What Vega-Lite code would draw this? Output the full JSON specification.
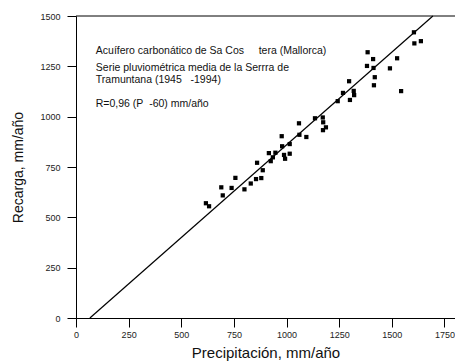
{
  "$schema": "https://vega.github.io/schema/vega-lite/v6.json",
  "width": 379,
  "height": 302,
  "autosize": {"type": "none"},
  "padding": {"left": 76, "top": 16, "right": 0, "bottom": 45},
  "background": "white",
  "config": {
    "view": {"stroke": null},
    "font": "Liberation Sans",
    "axis": {
      "grid": false,
      "domainColor": "black",
      "domainWidth": 1,
      "tickColor": "black",
      "tickWidth": 1,
      "tickSize": 9,
      "labelFont": "Liberation Sans",
      "labelFontSize": 9,
      "labelColor": "#222",
      "titleFont": "Liberation Sans",
      "titleFontWeight": "normal",
      "titleColor": "#111",
      "format": "d"
    }
  },
  "datasets": {
    "obs": [
      {"P": 617, "R": 570}, {"P": 632, "R": 555}, {"P": 690, "R": 649}, {"P": 697, "R": 609},
      {"P": 739, "R": 646}, {"P": 757, "R": 696}, {"P": 800, "R": 639}, {"P": 830, "R": 668},
      {"P": 855, "R": 690}, {"P": 880, "R": 695}, {"P": 860, "R": 771}, {"P": 887, "R": 734},
      {"P": 916, "R": 819}, {"P": 925, "R": 779}, {"P": 935, "R": 798}, {"P": 947, "R": 821},
      {"P": 977, "R": 903}, {"P": 979, "R": 853}, {"P": 988, "R": 810}, {"P": 993, "R": 791},
      {"P": 1015, "R": 816}, {"P": 1015, "R": 864}, {"P": 1059, "R": 967}, {"P": 1061, "R": 910},
      {"P": 1094, "R": 899}, {"P": 1135, "R": 992}, {"P": 1172, "R": 996}, {"P": 1174, "R": 972},
      {"P": 1187, "R": 947}, {"P": 1173, "R": 933}, {"P": 1243, "R": 1077}, {"P": 1268, "R": 1118},
      {"P": 1301, "R": 1083}, {"P": 1297, "R": 1176}, {"P": 1319, "R": 1128}, {"P": 1321, "R": 1107},
      {"P": 1385, "R": 1320}, {"P": 1411, "R": 1286}, {"P": 1382, "R": 1252}, {"P": 1413, "R": 1242},
      {"P": 1419, "R": 1196}, {"P": 1415, "R": 1156}, {"P": 1491, "R": 1240}, {"P": 1525, "R": 1290},
      {"P": 1544, "R": 1127}, {"P": 1605, "R": 1419}, {"P": 1607, "R": 1364}, {"P": 1638, "R": 1375}
    ],
    "fit": [{"P": 66, "R": 0}, {"P": 1695, "R": 1500}],
    "notes": [
      {"P": 94, "R": 1328, "label": "Acuífero carbonático de Sa Cos\u00a0\u00a0\u00a0\u00a0\u00a0tera (Mallorca)"},
      {"P": 94, "R": 1243, "label": "Serie pluviométrica media de la Serrra de"},
      {"P": 94, "R": 1181, "label": "Tramuntana (1945\u00a0\u00a0\u00a0-1994)"},
      {"P": 94, "R": 1061, "label": "R=0,96 (P\u00a0\u00a0-60) mm/año"}
    ]
  },
  "layer": [
    {
      "data": {"name": "obs"},
      "mark": {"type": "square", "size": 18, "color": "black", "opacity": 1},
      "encoding": {
        "x": {
          "field": "P", "type": "quantitative",
          "scale": {"domain": [0, 1800], "nice": false, "zero": false},
          "axis": {
            "values": [0, 250, 500, 750, 1000, 1250, 1500, 1750],
            "format": "d",
            "title": "Precipitación, mm/año",
            "titleFontSize": 15,
            "labelPadding": 3,
            "titlePadding": 6,
            "labelFlush": false
          }
        },
        "y": {
          "field": "R", "type": "quantitative",
          "scale": {"domain": [0, 1500], "nice": false, "zero": false},
          "axis": {
            "values": [0, 250, 500, 750, 1000, 1250, 1500],
            "format": "d",
            "title": "Recarga, mm/año",
            "titleFontSize": 14,
            "labelPadding": 7,
            "titlePadding": 14,
            "labelFlush": false
          }
        }
      }
    },
    {
      "data": {"name": "fit"},
      "mark": {"type": "line", "color": "black", "strokeWidth": 1.2},
      "encoding": {
        "x": {"field": "P", "type": "quantitative"},
        "y": {"field": "R", "type": "quantitative"}
      }
    },
    {
      "data": {"values": [{}]},
      "mark": {"type": "rule", "color": "black", "strokeWidth": 1},
      "encoding": {"y": {"datum": 1500}}
    },
    {
      "data": {"name": "notes"},
      "mark": {"type": "text", "align": "left", "baseline": "middle", "fontSize": 10.5, "color": "#111", "font": "Liberation Sans"},
      "encoding": {
        "x": {"field": "P", "type": "quantitative"},
        "y": {"field": "R", "type": "quantitative"},
        "text": {"field": "label"}
      }
    }
  ]
}
